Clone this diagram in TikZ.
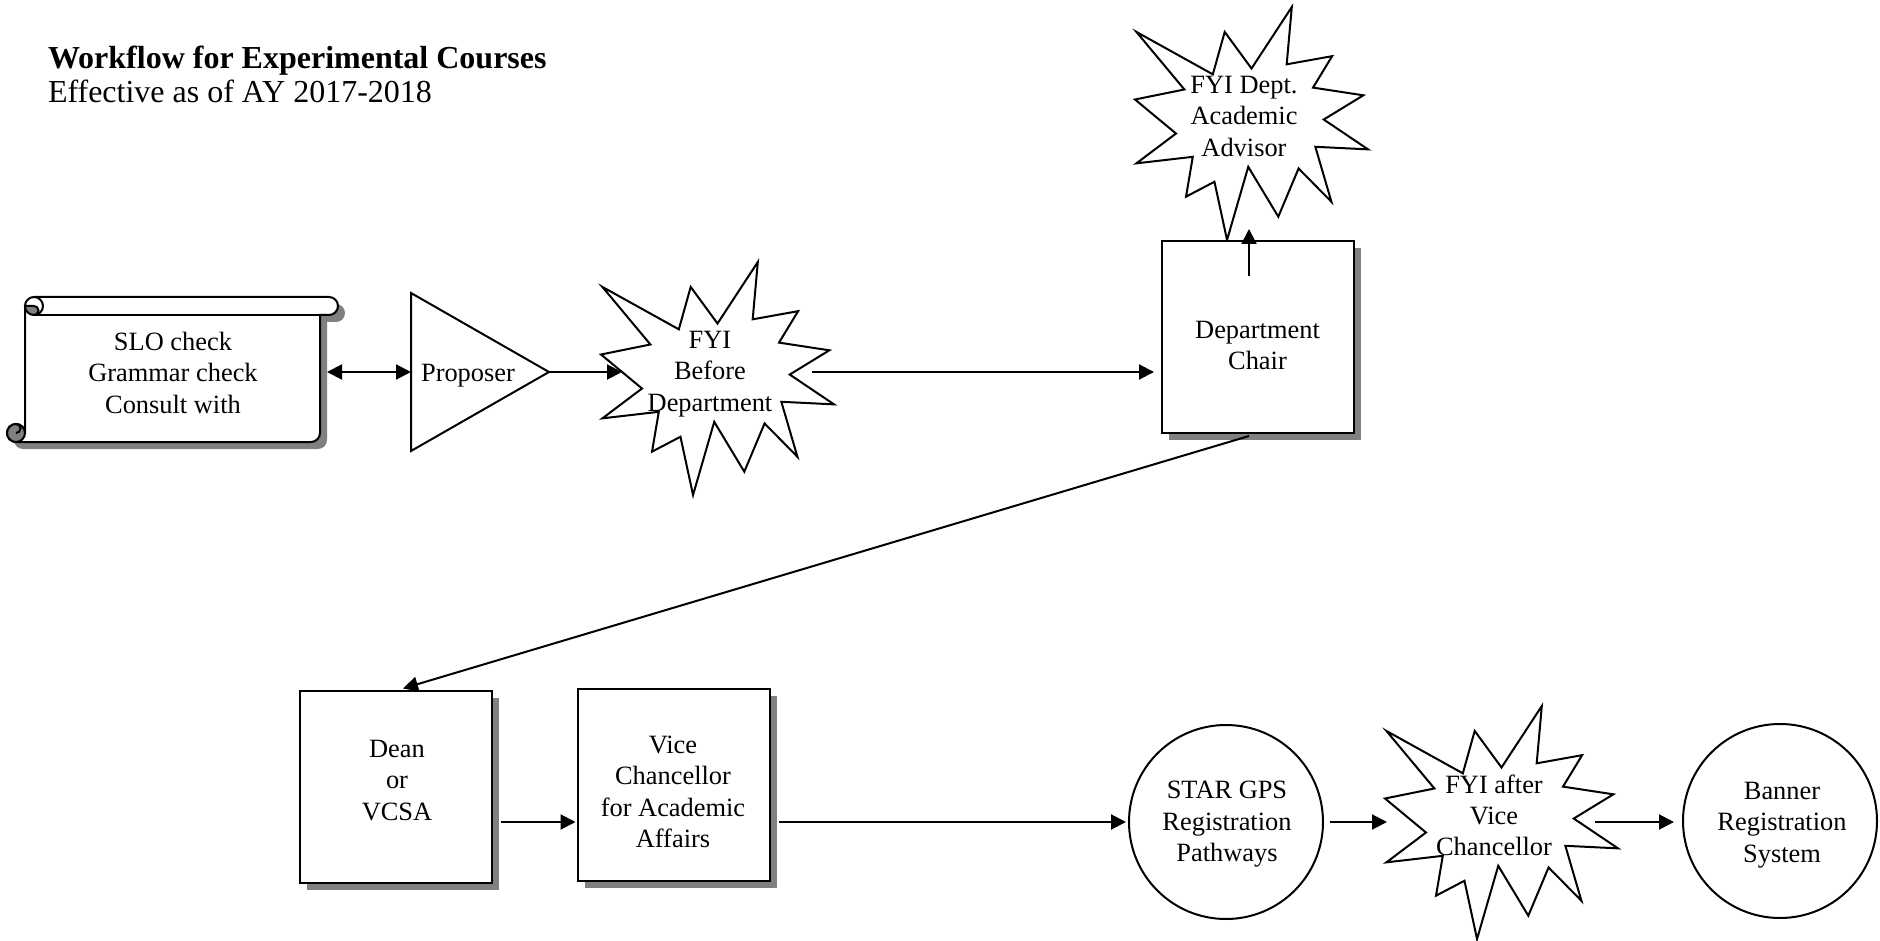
\documentclass[tikz,border=0pt]{standalone}
\usepackage{fontspec}
\setmainfont{Liberation Serif}
\usetikzlibrary{arrows.meta,shadows,calc}

\tikzset{
  burst/.pic={
    \draw[fill=white] (0.006,0.107) -- (0.334,0.289) -- (0.385,0.107) -- (0.500,0.264)
      -- (0.673,0) -- (0.651,0.246) -- (0.846,0.211) -- (0.764,0.346)
      -- (0.980,0.379) -- (0.810,0.483) -- (1.000,0.611) -- (0.774,0.600)
      -- (0.843,0.836) -- (0.702,0.693) -- (0.615,0.900) -- (0.486,0.686)
      -- (0.395,1.000) -- (0.341,0.750) -- (0.219,0.814) -- (0.248,0.643)
      -- (0.006,0.671) -- (0.176,0.543) -- (0.000,0.397) -- (0.212,0.354) -- cycle;
  }
}

\begin{document}
\begin{tikzpicture}[x=0.5pt,y=-0.5pt,line width=1pt,
  txt/.style={align=center,inner sep=0pt,font=\fontsize{13.2}{15.6}\selectfont,
    execute at begin node=\strut,execute at end node=\strut,yshift=-2.5pt},
  arr/.style={-{Triangle[length=7.5pt,width=7.5pt]}},
  darr/.style={{Triangle[length=7.5pt,width=7.5pt]}-{Triangle[length=7.5pt,width=7.5pt]}},
  box/.style={draw,fill=white,minimum width=96pt,minimum height=96pt,inner sep=0pt,
    drop shadow={shadow xshift=3.5pt,shadow yshift=-3.5pt,fill=black!50,opacity=1}},
  circ/.style={draw,fill=white,circle,minimum size=97pt,inner sep=0pt},
  hidden/.style={inner sep=0pt,outer sep=0pt}]
\useasboundingbox (0,0) rectangle (1880,941);

% heading
\node[anchor=base west,inner sep=0pt,font=\fontsize{16}{19}\selectfont\bfseries] (title) at (47,69) {Workflow for Experimental Courses};
\node[anchor=base west,inner sep=0pt,font=\fontsize{16}{19}\selectfont] (subtitle) at (47,103) {Effective as of AY 2017-2018};

% scroll: shadow, body, curls
\fill[black!50,shift={(7,7)}] (34,297) -- (329,297) arc[start angle=-90,end angle=90,radius=9]
  -- (320,315) -- (320,433) arc[start angle=0,end angle=90,radius=9] -- (16,442)
  arc[start angle=90,end angle=360,radius=9] -- (25,306) arc[start angle=180,end angle=270,radius=9] -- cycle;
\filldraw[fill=white] (34,297) -- (329,297) arc[start angle=-90,end angle=90,radius=9]
  -- (320,315) -- (320,433) arc[start angle=0,end angle=90,radius=9] -- (16,442)
  arc[start angle=90,end angle=360,radius=9] -- (25,306) arc[start angle=180,end angle=270,radius=9] -- cycle;
\draw (34,315) -- (320,315);
\draw (34,297) arc[start angle=-90,end angle=90,radius=9];
\filldraw[fill=black!50] (34,306) arc[start angle=-90,end angle=90,radius=4.5]
  arc[start angle=90,end angle=180,radius=9] -- cycle;
\filldraw[fill=black!50] (16,433) circle[radius=9];
\draw (16,424) arc[start angle=-90,end angle=90,radius=4.5];
\node[hidden,minimum width=151pt,minimum height=67pt] (scroll) at (176,382) {};
\node[txt] (scrolltext) at (173,372.5) {SLO check\\Grammar check\\Consult with};

% proposer triangle
\node[hidden,minimum width=69pt,minimum height=79pt] (prop) at (480,372) {};
\filldraw[fill=white] (prop.north west) -- (prop.east) -- (prop.south west) -- cycle;
\node[txt] (proptext) at (468,370) {Proposer};

% starbursts (outline first, then the named text nodes on top)
\coordinate (burst1) at (601,262);
\coordinate (burst2) at (1135,7);
\coordinate (burst3) at (1385,706);
\begin{scope}[shift={(burst1)},x=116.5pt,y=-116.5pt] \pic {burst}; \end{scope}
\begin{scope}[shift={(burst2)},x=116.5pt,y=-116.5pt] \pic {burst}; \end{scope}
\begin{scope}[shift={(burst3)},x=116.5pt,y=-116.5pt] \pic {burst}; \end{scope}
\node[txt] (fyi1) at ($(burst1)+(109,109)$) {FYI\\Before\\Department};
\node[txt] (fyi2) at ($(burst2)+(109,109)$) {FYI Dept.\\Academic\\Advisor};
\node[txt] (fyi3) at ($(burst3)+(109,109)$) {FYI after\\Vice\\Chancellor};

% boxes
\node[box] (dept) at (1258,337) {};
\node[txt] (depttext) at (1257.5,345) {Department\\Chair};
\node[box] (dean) at (396,786.5) {};
\node[txt] (deantext) at (397,780) {Dean\\or\\VCSA};
\node[box] (vcaa) at (673.5,784.5) {};
\node[txt] (vcaatext) at (673,791.5) {Vice\\Chancellor\\for Academic\\Affairs};

% circles
\node[circ] (star) at (1226,822) {};
\node[txt] (startext) at (1227,821) {STAR GPS\\Registration\\Pathways};
\node[circ] (banner) at (1780,821) {};
\node[txt] (bannertext) at (1782,822) {Banner\\Registration\\System};

% connectors
\draw[darr] (scroll.east |- prop.west) -- (prop.west);
\draw[arr] (prop.east) -- ($(burst1)+(21,110)$);
\draw[arr] ($(burst1)+(211,110)$) -- ($(dept.west |- prop.east)+(-7,0)$);
\draw[arr] ($(dept.north)+(-9,36)$) -- ($(dept.north)+(-9,-11)$);
\draw[arr] ($(dept.south)+(-9,2)$) -- ($(dean.north)+(7,-1)$);
\draw[arr] ($(dean.east |- star.west)+(8,0)$) -- ($(vcaa.west |- star.west)+(-1,0)$);
\draw[arr] ($(vcaa.east |- star.west)+(8,0)$) -- ($(star.west)+(-2,0)$);
\draw[arr] ($(star.east)+(6,0)$) -- ($(burst3)+(2,116)$);
\draw[arr] ($(burst3)+(210,116)$) -- ($(banner.west |- star.west)+(-8,0)$);
\end{tikzpicture}
\end{document}
